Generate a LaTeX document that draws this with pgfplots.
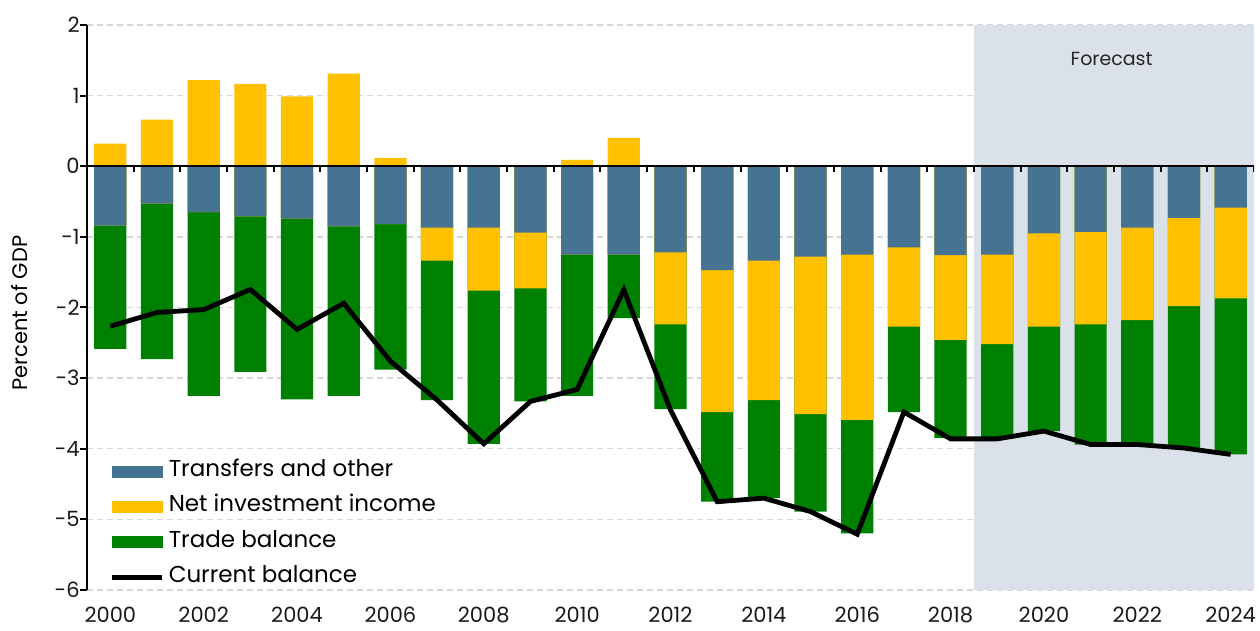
\documentclass[border=0pt]{standalone}
\usepackage{pgfplots}
\usepackage{pgfplotstable}
\pgfplotsset{compat=1.18}
\usepackage{fontspec}
\setmainfont{Poppins}
\definecolor{cblue}{RGB}{70,115,145}
\definecolor{cyellow}{RGB}{255,192,0}
\definecolor{cgreen}{RGB}{0,128,0}
\definecolor{cshade}{RGB}{218,225,233}
\definecolor{cgrid}{RGB}{215,215,215}
% year pos = positive net investment income; blue/nii/trade = cumulative bottoms of the negative stack; cur = current balance
\pgfplotstableread{
year pos blue nii trade cur
2000 0.32 -0.84 -0.84 -2.585 -2.265
2001 0.66 -0.53 -0.53 -2.73 -2.07
2002 1.22 -0.65 -0.65 -3.25 -2.03
2003 1.165 -0.71 -0.71 -2.91 -1.745
2004 0.99 -0.74 -0.74 -3.30 -2.31
2005 1.31 -0.85 -0.85 -3.25 -1.94
2006 0.12 -0.82 -0.82 -2.88 -2.76
2007 0 -0.87 -1.335 -3.31 -3.31
2008 0 -0.87 -1.76 -3.93 -3.93
2009 0 -0.94 -1.73 -3.33 -3.33
2010 0.09 -1.25 -1.25 -3.25 -3.16
2011 0.40 -1.25 -1.25 -2.15 -1.75
2012 0 -1.22 -2.24 -3.44 -3.45
2013 0 -1.47 -3.48 -4.75 -4.75
2014 0 -1.335 -3.31 -4.70 -4.70
2015 0 -1.28 -3.51 -4.89 -4.89
2016 0 -1.25 -3.59 -5.20 -5.21
2017 0 -1.15 -2.27 -3.48 -3.48
2018 0 -1.26 -2.46 -3.85 -3.86
2019 0 -1.25 -2.52 -3.86 -3.86
2020 0 -0.95 -2.27 -3.75 -3.75
2021 0 -0.93 -2.24 -3.94 -3.94
2022 0 -0.87 -2.18 -3.94 -3.94
2023 0 -0.73 -1.98 -3.99 -3.99
2024 0 -0.585 -1.87 -4.08 -4.08
}\data
\begin{document}
\begin{tikzpicture}
\useasboundingbox (-43.5pt,-20.5pt) rectangle (586.5pt,295pt);
\begin{axis}[
  scale only axis,
  width=583.5pt, height=282.5pt,
  xmin=1999.5, xmax=2024.5, ymin=-6, ymax=2,
  axis lines*=left,
  x axis line style={draw=none},
  y axis line style={black, line width=1pt},
  xtick={2000,2002,...,2024},
  xticklabels={2000,2002,2004,2006,2008,2010,2012,2014,2016,2018,2020,2022,2024},
  x tick style={draw=none},
  ytick={-6,-5,...,2},
  yticklabels={-6,-5,-4,-3,-2,-1,0,1,2},
  y tick style={black, line width=1pt},
  tick align=outside,
  major tick length=3.5pt,
  ymajorgrids,
  grid style={cgrid, line width=0.7pt, dash pattern=on 3pt off 2pt},
  tick label style={font=\fontsize{10.5}{12}\selectfont, black!90},
  xticklabel style={anchor=north, inner sep=0pt, yshift=-5pt},
  yticklabel style={anchor=east, inner sep=0pt},
  ylabel={Percent of GDP},
  ylabel style={at={(axis description cs:-0.0574,0.49)}, anchor=center, font=\fontsize{10.5}{12}\selectfont},
  legend style={draw=none, fill=none, at={(axis description cs:0.019,-0.009)}, anchor=south west,
    font=\fontsize{11.5}{13}\selectfont, row sep=0.7pt, inner sep=0pt,
    nodes={text height=9pt, text depth=4pt}},
  legend cell align=left,
]
\addlegendimage{legend image code/.code={\fill[cblue] (0pt,-2.75pt) rectangle (25pt,2.75pt);}}
\addlegendimage{legend image code/.code={\fill[cyellow] (0pt,-2.75pt) rectangle (25pt,2.75pt);}}
\addlegendimage{legend image code/.code={\fill[cgreen] (0pt,-2.75pt) rectangle (25pt,2.75pt);}}
\addlegendimage{legend image code/.code={\draw[black,line width=2.6pt] (0pt,0pt) -- (25pt,0pt);}}
\fill[cshade] (axis cs:2018.5,-6) rectangle (axis cs:2024.5,2);
\addplot[ybar, bar width=0.69, bar shift=0pt, fill=cgreen, draw=none, forget plot] table[x=year,y=trade] {\data};
\addplot[ybar, bar width=0.69, bar shift=0pt, fill=cyellow, draw=none, forget plot] table[x=year,y=nii] {\data};
\addplot[ybar, bar width=0.69, bar shift=0pt, fill=cblue, draw=none, forget plot] table[x=year,y=blue] {\data};
\addplot[ybar, bar width=0.69, bar shift=0pt, fill=cyellow, draw=none, forget plot] table[x=year,y=pos] {\data};
\draw[black, line width=1pt] (axis cs:1999.5,0) -- (axis cs:2024.5,0);
\pgfplotsinvokeforeach{2000.5,2001.5,...,2024.5}{\draw[black, line width=1pt] (axis cs:#1,0) -- ++(0pt,-3pt);}
\addplot[black, line width=2.4pt, no markers, forget plot] table[x=year,y=cur] {\data};
\node[font=\fontsize{9.5}{11}\selectfont, text=black!85] at (axis cs:2021.45,1.52) {Forecast};
\legend{Transfers and other, Net investment income, Trade balance, Current balance}
\end{axis}
\end{tikzpicture}
\end{document}
